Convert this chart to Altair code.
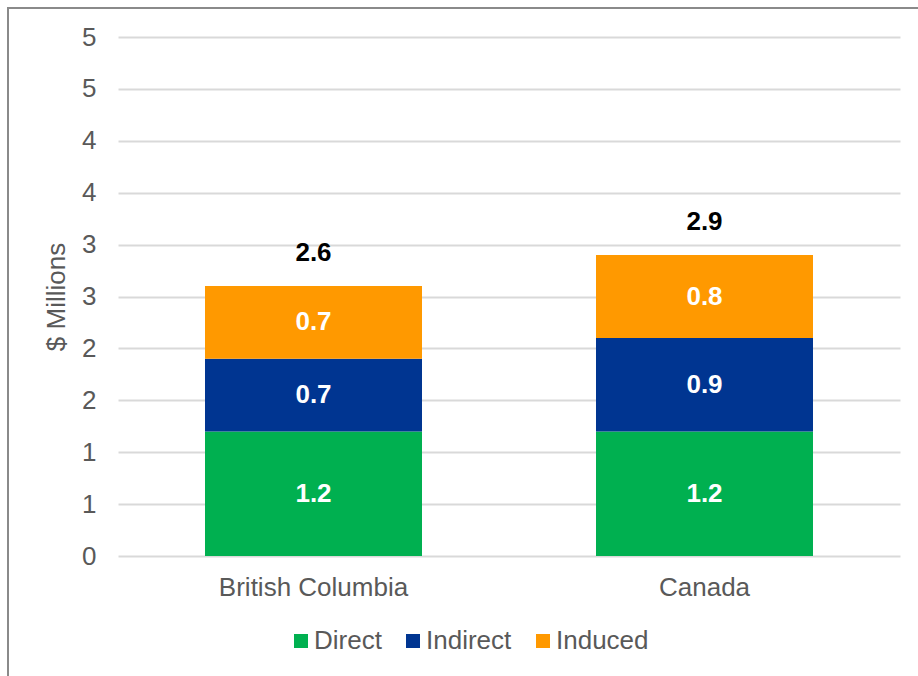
import altair as alt
import pandas as pd

# Economic impact by region, $ millions
regions = ["British Columbia", "Canada"]
components = ["Direct", "Indirect", "Induced"]
direct = [1.2, 1.2]
indirect = [0.7, 0.9]
induced = [0.7, 0.8]
palette = ["#00B050", "#003591", "#FF9900"]
y_ticks = [0, 0.5, 1, 1.5, 2, 2.5, 3, 3.5, 4, 4.5, 5]

FONT = "Liberation Sans"
GREY_TEXT = "#595959"

rows = []
for i, region in enumerate(regions):
    for j, (comp, vals) in enumerate(zip(components, [direct, indirect, induced])):
        rows.append({"region": region, "component": comp, "order": j, "value": vals[i]})
df = pd.DataFrame(rows)

x_enc = alt.X(
    "region:N",
    sort=regions,
    title=None,
    scale=alt.Scale(paddingInner=0.445, paddingOuter=0.2225),
    axis=alt.Axis(
        labelAngle=0,
        labelFontSize=26,
        labelColor=GREY_TEXT,
        labelFont=FONT,
        labelPadding=18,
        labelLimit=0,
        ticks=False,
        domain=False,
    ),
)

y_scale = alt.Scale(domain=[0, 5], nice=False)

stacked = alt.Chart(df).transform_stack(
    stack="value",
    as_=["y0", "y1"],
    groupby=["region"],
    sort=[alt.SortField("order", order="ascending")],
).transform_calculate(mid="(datum.y0 + datum.y1) / 2")

bars = stacked.mark_bar().encode(
    x=x_enc,
    y=alt.Y(
        "y0:Q",
        scale=y_scale,
        title="$ Millions",
        axis=alt.Axis(
            values=y_ticks,
            format=".0f",
            labelFontSize=26,
            labelColor=GREY_TEXT,
            labelFont=FONT,
            labelPadding=22,
            ticks=False,
            domain=False,
            grid=True,
            gridColor="#d9d9d9",
            gridWidth=2,
            titleFontSize=26,
            titleFont=FONT,
            titleFontWeight="normal",
            titleColor=GREY_TEXT,
            titlePadding=12,
        ),
    ),
    y2="y1:Q",
    color=alt.Color(
        "component:N",
        sort=components,
        scale=alt.Scale(domain=components, range=palette),
        legend=alt.Legend(
            title=None,
            orient="none",
            direction="horizontal",
            legendX=170,
            legendY=591,
            symbolType="square",
            symbolSize=196,
            symbolStrokeWidth=0,
            labelFontSize=26,
            labelFont=FONT,
            labelColor=GREY_TEXT,
            labelOffset=0,
            columnPadding=18,
            padding=0,
        ),
    ),
)

segment_labels = stacked.mark_text(
    color="white", fontSize=26, fontWeight="bold", font=FONT, baseline="middle"
).encode(
    x=alt.X("region:N", sort=regions),
    y=alt.Y("mid:Q", scale=y_scale),
    text=alt.Text("value:Q", format=".1f"),
)

totals = alt.Chart(df).transform_aggregate(
    total="sum(value)", groupby=["region"]
).mark_text(
    color="black", fontSize=26, fontWeight="bold", font=FONT, baseline="middle", dy=-33
).encode(
    x=alt.X("region:N", sort=regions),
    y=alt.Y("total:Q", scale=y_scale),
    text=alt.Text("total:Q", format=".1f"),
)

frame = alt.Chart(pd.DataFrame({"k": [0]})).mark_rect(
    filled=False, stroke="#8a8a8a", strokeWidth=2
).encode(
    x=alt.value(-110),
    x2=alt.value(810),
    y=alt.value(-29),
    y2=alt.value(660),
)

chart = alt.layer(bars, segment_labels, totals, frame).properties(
    width=782,
    height=519,
    padding={"left": 118, "top": 37, "right": 18, "bottom": 120},
    autosize=alt.AutoSizeParams(type="none"),
    background="white",
).configure_view(stroke=None)

chart.save("out.html", embed_options={"renderer": "svg", "actions": False})
